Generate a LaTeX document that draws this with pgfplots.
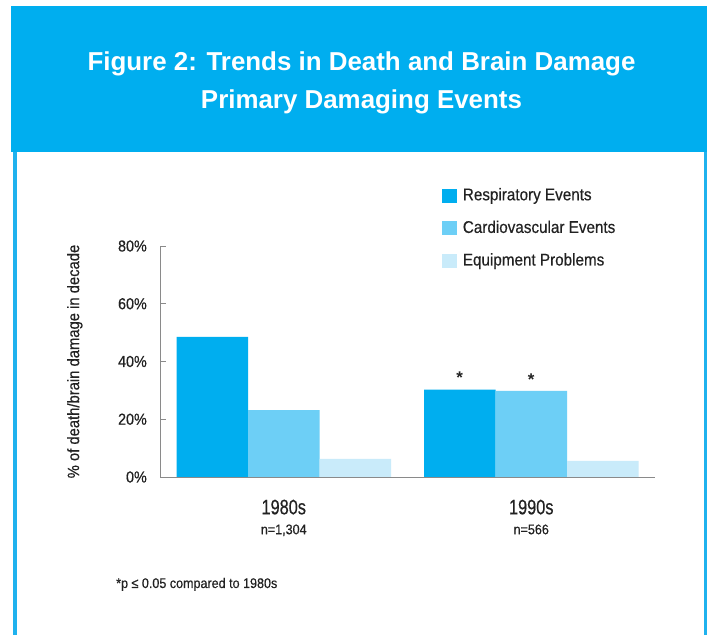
\documentclass[border=0pt]{standalone}
\usepackage{pgfplots}
\pgfplotsset{compat=1.18}
\usepackage{fontspec}
\setmainfont{Liberation Sans}
\newfontfamily\nf[FakeStretch=0.9,FakeBold=0.4]{Liberation Sans}
\newfontfamily\nfc[FakeStretch=0.78,FakeBold=0.4]{Liberation Sans}
\definecolor{resp}{HTML}{00AEEF}
\definecolor{cardio}{HTML}{6DCFF6}
\definecolor{equip}{HTML}{C9EBFA}
\definecolor{framec}{HTML}{1FB2EE}
\definecolor{axgray}{HTML}{8A8A8A}
\definecolor{txt}{HTML}{222222}
\begin{document}
\begin{tikzpicture}
\fill[white] (0bp,0bp) rectangle (708bp,635bp);
\fill[resp] (11bp,483bp) rectangle (707bp,629bp);
\fill[framec] (12.5bp,0bp) rectangle (16.5bp,483bp);
\fill[framec] (703.5bp,0bp) rectangle (707bp,483bp);
\node[white, font=\fontsize{26}{30}\selectfont\bfseries, anchor=base, inner sep=0pt] at (361.5bp,564bp) {Figure 2: Trends in Death and Brain Damage};
\node[white, font=\fontsize{26}{30}\selectfont\bfseries, anchor=base, inner sep=0pt] at (361.5bp,526bp) {Primary Damaging Events};
\node[anchor=base west, inner sep=0pt, text=txt, font=\nf\fontsize{14}{16}\selectfont] at (116bp,47bp) {*p ≤ 0.05 compared to 1980s};
\begin{axis}[
  at={(160bp,158bp)}, anchor=south west,
  scale only axis, width=495bp, height=231bp,
  xmin=-0.5, xmax=1.5, ymin=0, ymax=80,
  ybar=0pt, bar width=71.5bp,
  axis x line*=bottom, axis y line*=left,
  axis line style={draw=axgray, line width=0.8pt, -},
  xtick={0,1},
  xticklabels={{{\nfc\fontsize{21}{22}\selectfont 1980s}\\n=1,304},{{\nfc\fontsize{21}{22}\selectfont 1990s}\\n=566}},
  xticklabel style={align=center, text=txt, font=\nf\fontsize{14}{20}\selectfont, inner sep=0pt, yshift=-22.5bp},
  major x tick style={draw=none},
  ytick={0,20,40,60,80},
  yticklabels={0\%,20\%,40\%,60\%,80\%},
  yticklabel style={text=txt, font=\nf\fontsize{16}{18}\selectfont, inner sep=0pt, xshift=-13bp},
  major y tick style={draw=axgray, line width=0.8pt},
  tick align=inside, major tick length=6bp,
  ylabel={\% of death/brain damage in decade},
  ylabel style={text=txt, font=\nf\fontsize{16.5}{18}\selectfont, at={(axis description cs:-0.172,0.5)}, anchor=center, rotate=0},
  legend style={draw=none, fill=none, at={(0.569,1.255)}, anchor=north west, text=txt,
    font=\nf\fontsize{17}{19}\selectfont, inner sep=0pt, column sep=6bp, row sep=15.6bp,
    nodes={inner sep=0pt, text height=13bp, text depth=4bp}},
  legend cell align=left,
  sq/.style={legend image code/.code={\fill[##1] (0bp,-7bp) rectangle (15bp,7bp);}},
  clip=false,
]
\addplot[fill=resp, draw=none, sq, point meta=explicit symbolic, nodes near coords={\pgfplotspointmeta},
  nodes near coords style={text=txt, font=\bfseries\fontsize{17}{18}\selectfont, anchor=south, yshift=2bp}]
  coordinates {(0,48.5) [{}] (1,30.3) [*]};
\addplot[fill=cardio, draw=none, sq, point meta=explicit symbolic, nodes near coords={\pgfplotspointmeta},
  nodes near coords style={text=txt, font=\bfseries\fontsize{17}{18}\selectfont, anchor=south, yshift=2bp}]
  coordinates {(0,23.2) [{}] (1,29.8) [*]};
\addplot[fill=equip, draw=none, sq] coordinates {(0,6.3) (1,5.6)};
\legend{Respiratory Events, Cardiovascular Events, Equipment Problems}
\end{axis}
\end{tikzpicture}
\end{document}
